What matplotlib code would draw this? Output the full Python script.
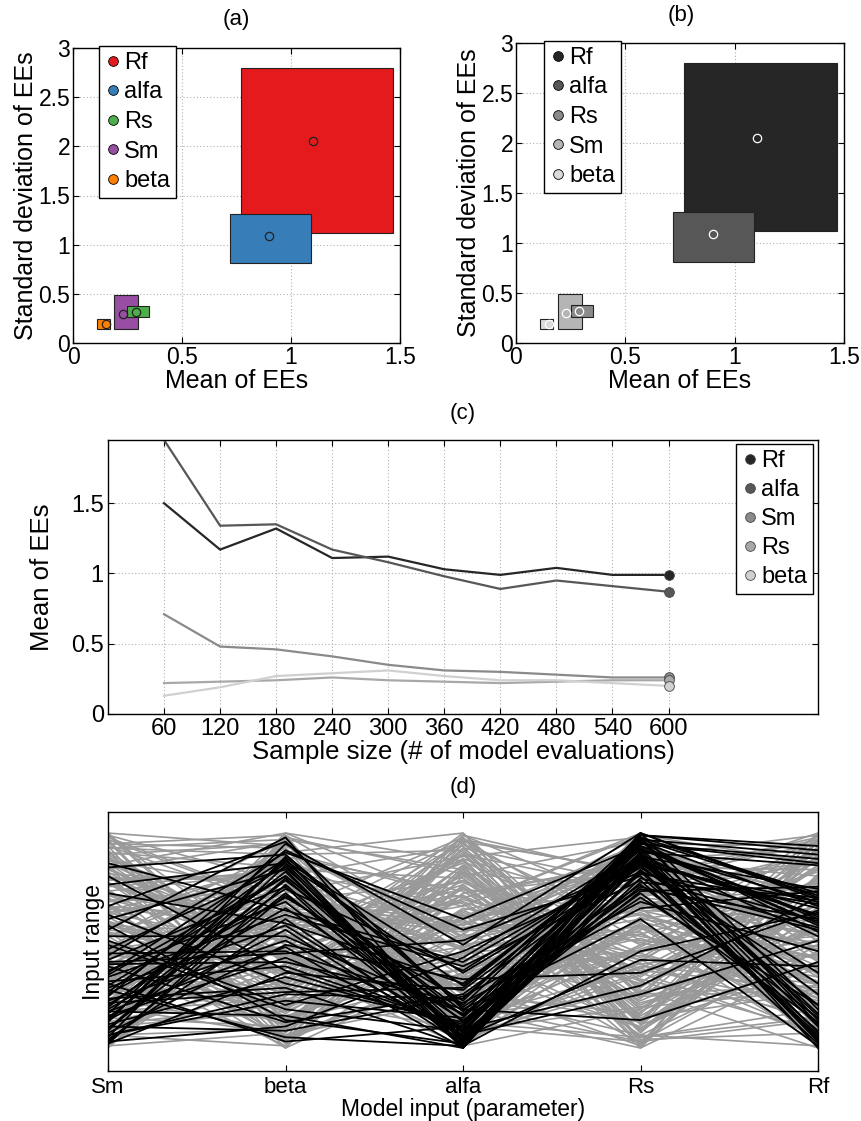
import numpy as np
import matplotlib
matplotlib.use("Agg")
import matplotlib.pyplot as plt
from matplotlib.patches import Rectangle
from matplotlib.lines import Line2D

# ---------------- data ----------------
# (a)/(b): mean / std of elementary effects with bootstrap ranges
params_ab = ["Rf", "alfa", "Rs", "Sm", "beta"]
mu_mid = [1.10, 0.90, 0.29, 0.23, 0.15]
sd_mid = [2.05, 1.09, 0.32, 0.30, 0.19]
mu_lo = [0.77, 0.72, 0.25, 0.19, 0.11]
mu_hi = [1.47, 1.09, 0.35, 0.30, 0.17]
sd_lo = [1.12, 0.81, 0.26, 0.14, 0.14]
sd_hi = [2.80, 1.31, 0.38, 0.49, 0.24]

# (c): mean of EEs versus sample size
sample_size = [60, 120, 180, 240, 300, 360, 420, 480, 540, 600]
params_c = ["Rf", "alfa", "Sm", "Rs", "beta"]
mean_rf = [1.50, 1.17, 1.32, 1.11, 1.12, 1.03, 0.99, 1.04, 0.99, 0.99]
mean_alfa = [1.95, 1.34, 1.35, 1.17, 1.08, 0.98, 0.89, 0.95, 0.91, 0.87]
mean_sm = [0.71, 0.48, 0.46, 0.41, 0.35, 0.31, 0.30, 0.28, 0.26, 0.26]
mean_rs = [0.22, 0.23, 0.24, 0.26, 0.24, 0.23, 0.22, 0.23, 0.24, 0.24]
mean_beta = [0.13, 0.19, 0.27, 0.29, 0.31, 0.27, 0.24, 0.24, 0.22, 0.20]

# (d): parallel coordinates of sampled inputs (percent of range)
params_d = ["Sm", "beta", "alfa", "Rs", "Rf"]
sm_gray = [3, 97, 45, 12, 68, 81, 24, 56, 90, 37, 62, 8, 74, 29, 51, 99, 16, 43, 85, 70,
           5, 33, 58, 92, 21, 77, 47, 10, 64, 88, 39, 2, 53, 95, 27, 71, 14, 60, 83, 36,
           49, 100, 19, 66, 7, 79, 41, 94, 25, 57, 87, 11, 72, 31, 48, 98, 4, 63, 35, 80,
           18, 54, 91, 28, 69, 1, 44, 76, 13, 59, 84, 38, 96, 22, 65, 50, 9, 73, 30, 89,
           42, 6, 78, 55, 17, 93, 34, 67, 0, 82, 26, 61, 46, 99, 15, 75, 40, 86, 20, 52,
           71, 3, 58, 95, 32, 66, 12, 88, 47, 79, 23, 97, 8, 62, 39, 84, 54, 1, 73, 29,
           90, 43, 18, 69, 100, 35, 57, 6, 81, 48, 14, 77, 93, 26, 63, 41, 5, 86, 31, 70,
           52, 99, 10, 45, 83, 22, 67, 38, 94, 2, 59, 16, 76, 50, 27, 91, 36, 64, 9, 85]
beta_gray = [55, 12, 88, 31, 74, 3, 66, 97, 40, 19, 82, 47, 8, 61, 93, 25, 70, 36, 100, 14,
             52, 79, 28, 5, 91, 43, 68, 17, 85, 58, 1, 76, 34, 99, 22, 63, 10, 87, 49, 71,
             27, 94, 6, 59, 38, 80, 15, 65, 96, 42, 73, 20, 53, 89, 4, 67, 32, 78, 11, 60,
             98, 37, 84, 24, 50, 7, 92, 45, 69, 18, 35, 62, 13, 86, 56, 0, 75, 29, 95, 41,
             64, 9, 81, 46, 23, 97, 54, 2, 72, 33, 90, 16, 57, 77, 39, 83, 26, 48, 100, 5,
             44, 70, 21, 93, 60, 11, 79, 34, 87, 51, 8, 66, 99, 30, 74, 42, 3, 58, 82, 19,
             95, 47, 14, 68, 26, 88, 53, 1, 76, 37, 61, 23, 90, 6, 45, 72, 98, 31, 57, 12,
             84, 39, 65, 17, 96, 50, 28, 80, 4, 69, 35, 91, 55, 10, 78, 43, 63, 22, 86, 0]
alfa_gray = [78, 34, 5, 91, 47, 62, 18, 83, 29, 70, 11, 96, 53, 39, 2, 75, 58, 24, 87, 44,
             66, 9, 81, 35, 100, 20, 57, 93, 13, 49, 72, 27, 88, 4, 61, 42, 97, 15, 76, 31,
             85, 52, 23, 68, 1, 94, 37, 59, 8, 80, 46, 99, 16, 73, 33, 55, 90, 6, 64, 26,
             12, 71, 41, 95, 19, 84, 50, 3, 77, 60, 92, 28, 65, 10, 86, 38, 21, 98, 45, 7,
             54, 82, 14, 69, 30, 0, 74, 48, 89, 36, 17, 63, 97, 25, 56, 79, 40, 11, 67, 93,
             3, 46, 85, 22, 71, 58, 8, 90, 33, 62, 99, 15, 51, 78, 38, 27, 95, 4, 66, 43,
             20, 87, 60, 1, 74, 49, 13, 83, 30, 100, 57, 9, 92, 35, 68, 18, 81, 44, 6, 72,
             25, 96, 39, 53, 12, 88, 64, 29, 76, 2, 47, 70, 19, 84, 55, 32, 98, 61, 10, 80]
rs_gray = [21, 66, 93, 8, 54, 37, 79, 1, 45, 88, 60, 14, 30, 97, 72, 5, 41, 84, 18, 63,
           99, 48, 26, 75, 11, 56, 90, 33, 69, 2, 82, 39, 7, 61, 95, 24, 50, 77, 13, 91,
           35, 70, 100, 16, 58, 3, 86, 44, 67, 28, 9, 80, 47, 22, 94, 64, 12, 38, 85, 53,
           74, 0, 57, 31, 89, 19, 68, 96, 42, 6, 27, 92, 52, 78, 15, 43, 99, 4, 60, 35,
           87, 17, 71, 49, 1, 83, 29, 62, 98, 10, 55, 36, 81, 6, 66, 23, 93, 46, 14, 76,
           40, 97, 2, 59, 32, 87, 19, 73, 51, 9, 65, 26, 90, 44, 80, 12, 56, 34, 100, 70,
           3, 48, 77, 18, 62, 95, 37, 8, 84, 25, 91, 58, 13, 69, 41, 0, 75, 53, 29, 86,
           16, 82, 45, 99, 5, 64, 31, 88, 20, 57, 72, 39, 94, 11, 50, 79, 24, 67, 3, 96]
rf_gray = [44, 88, 17, 63, 2, 79, 35, 96, 52, 10, 71, 26, 92, 40, 58, 14, 83, 5, 67, 31,
           19, 99, 48, 74, 37, 8, 62, 85, 23, 94, 55, 12, 80, 29, 66, 100, 43, 1, 77, 50,
           6, 61, 34, 90, 15, 72, 25, 97, 41, 84, 68, 3, 87, 57, 20, 46, 93, 30, 11, 75,
           38, 81, 9, 64, 99, 27, 53, 16, 89, 45, 0, 70, 36, 95, 59, 22, 86, 7, 49, 78,
           13, 56, 91, 33, 76, 4, 65, 42, 18, 97, 82, 28, 60, 1, 47, 88, 24, 73, 39, 54,
           92, 9, 69, 35, 15, 80, 51, 100, 26, 63, 7, 85, 43, 21, 98, 57, 31, 74, 12, 90,
           48, 66, 2, 79, 37, 94, 19, 58, 83, 29, 71, 14, 96, 52, 6, 40, 87, 23, 64, 10,
           99, 33, 77, 45, 18, 61, 8, 92, 55, 30, 86, 50, 4, 68, 42, 97, 27, 75, 13, 59]

sm_black = [84, 76, 72, 62, 55, 50, 46, 44, 41, 38, 35, 33, 31, 29, 27, 25, 24, 22, 21, 19,
            18, 17, 16, 15, 14, 13, 12, 11, 10, 9, 8, 7, 6, 5, 4, 3, 2, 2, 60, 52,
            48, 43, 39, 36, 30, 26, 23, 20, 28, 34, 40, 57, 66, 80, 86, 13, 6, 9, 17, 3]
beta_black = [90, 86, 58, 30, 98, 20, 84, 45, 75, 12, 88, 62, 38, 80, 5, 70, 92, 50, 26, 82,
              65, 15, 87, 42, 78, 55, 95, 33, 8, 72, 85, 48, 22, 89, 60, 10, 76, 35, 83, 52,
              18, 91, 40, 68, 3, 86, 28, 74, 57, 80, 44, 13, 96, 36, 64, 88, 25, 79, 47, 71]
alfa_black = [20, 5, 30, 12, 2, 45, 8, 18, 0, 25, 3, 38, 10, 15, 1, 22, 55, 6, 28, 4,
              13, 0, 35, 9, 17, 2, 48, 11, 24, 7, 1, 32, 14, 19, 3, 42, 5, 27, 0, 16,
              8, 60, 21, 4, 10, 29, 1, 36, 6, 12, 50, 2, 18, 9, 40, 3, 23, 7, 0, 15]
rs_black = [97, 88, 92, 75, 100, 82, 95, 13, 90, 85, 98, 78, 93, 70, 86, 99, 80, 25, 94, 89,
            72, 96, 84, 29, 91, 79, 100, 87, 68, 95, 83, 35, 97, 76, 90, 92, 41, 88, 99, 74,
            86, 94, 65, 98, 81, 93, 45, 89, 77, 96, 85, 91, 60, 100, 87, 82, 97, 73, 94, 90]
rf_black = [90, 62, 10, 55, 70, 5, 88, 40, 15, 68, 72, 2, 58, 20, 65, 94, 8, 50, 60, 74,
            12, 66, 30, 70, 0, 56, 18, 62, 45, 86, 6, 64, 71, 14, 52, 68, 38, 3, 92, 60,
            25, 57, 73, 11, 67, 16, 63, 4, 70, 54, 20, 85, 1, 69, 35, 59, 13, 75, 61, 7]

# ---------------- style ----------------
COLORS_A = ["#E41A1C", "#377EB8", "#4DAF4A", "#984EA3", "#FF7F00"]
GRAYS_B = ["#262626", "#575757", "#8a8a8a", "#b5b5b5", "#dadada"]
GRAYS_C = ["#262626", "#575757", "#8a8a8a", "#a8a8a8", "#d0d0d0"]

plt.rcParams.update({
    "font.family": ["Liberation Sans", "DejaVu Sans"],
    "xtick.direction": "in",
    "ytick.direction": "in",
    "xtick.top": True,
    "ytick.right": True,
    "axes.linewidth": 1.0,
    "xtick.major.size": 4,
    "ytick.major.size": 4,
})

W, H = 861, 1121
fig = plt.figure(figsize=(W / 100, H / 100), dpi=100)

LEG_KW = dict(bbox_transform=fig.transFigure, borderaxespad=0, frameon=True,
              fancybox=False, edgecolor="black", framealpha=1, handletextpad=0.12,
              handlelength=0.7, borderpad=0.25)


def px_axes(left, top, right, bottom):
    return fig.add_axes([left / W, 1 - bottom / H, (right - left) / W, (bottom - top) / H])


def px_text(x, y, s, **kw):
    fig.text(x / W, 1 - y / H, s, ha="center", va="center", **kw)


def grid_dotted(ax):
    ax.grid(True, color="#b0b0b0", linestyle=(0, (1, 2)), linewidth=0.8)
    ax.set_axisbelow(True)


def ee_panel(ax, colors, circ_edge):
    order = np.argsort([-(mu_hi[i] - mu_lo[i]) * (sd_hi[i] - sd_lo[i]) for i in range(len(params_ab))])
    for i in order:
        ax.add_patch(Rectangle((mu_lo[i], sd_lo[i]), mu_hi[i] - mu_lo[i], sd_hi[i] - sd_lo[i],
                               facecolor=colors[i], edgecolor="#222222", linewidth=0.8, zorder=2))
    ax.plot(mu_mid, sd_mid, "o", ms=6, mfc="none", mec=circ_edge, mew=0.9, zorder=3)
    ax.set_xlim(0, 1.5)
    ax.set_ylim(0, 3)
    ax.set_xticks([0, 0.5, 1, 1.5])
    ax.set_xticklabels(["0", "0.5", "1", "1.5"])
    ax.set_yticks([0, 0.5, 1, 1.5, 2, 2.5, 3])
    ax.set_yticklabels(["0", "0.5", "1", "1.5", "2", "2.5", "3"])
    ax.tick_params(labelsize=16.5, pad=2)
    ax.set_xlabel("Mean of EEs", fontsize=18, labelpad=0)
    ax.set_ylabel("Standard deviation of EEs", fontsize=18, labelpad=0)
    grid_dotted(ax)
    handles = [Line2D([], [], ls="none", marker="o", ms=7, mfc=c, mec="black", mew=0.6)
               for c in colors]
    return handles


# (a)
ax_a = px_axes(73, 48, 400, 343)
h = ee_panel(ax_a, COLORS_A, "#222222")
ax_a.legend(h, params_ab, loc="upper left", bbox_to_anchor=(99 / W, 1 - 46 / H),
            fontsize=17, labelspacing=0.32, **LEG_KW)
px_text(236, 20, "(a)", fontsize=16)

# (b)
ax_b = px_axes(516, 43, 844, 343)
h = ee_panel(ax_b, GRAYS_B, "white")
ax_b.legend(h, params_ab, loc="upper left", bbox_to_anchor=(544 / W, 1 - 41 / H),
            fontsize=17, labelspacing=0.32, **LEG_KW)
px_text(681, 16, "(b)", fontsize=16)

# (c)
ax_c = px_axes(108, 440, 818, 714)
series_c = [mean_rf, mean_alfa, mean_sm, mean_rs, mean_beta]
for name, vals, col in zip(params_c, series_c, GRAYS_C):
    ax_c.plot(sample_size, vals, color=col, lw=1.6, zorder=2)
h = []
for name, vals, col in zip(params_c, series_c, GRAYS_C):
    ax_c.plot(sample_size[-1], vals[-1], "o", ms=7, mfc=col, mec="#444444", mew=0.6, zorder=3)
    h.append(Line2D([], [], ls="none", marker="o", ms=7, mfc=col, mec="#444444", mew=0.6))
ax_c.set_xlim(0, 760)
ax_c.set_ylim(0, 1.95)
ax_c.set_xticks(sample_size)
ax_c.set_yticks([0, 0.5, 1, 1.5])
ax_c.set_yticklabels(["0", "0.5", "1", "1.5"])
ax_c.tick_params(labelsize=17, pad=3)
ax_c.set_xlabel("Sample size (# of model evaluations)", fontsize=18.5, labelpad=0)
ax_c.set_ylabel("Mean of EEs", fontsize=18.5, labelpad=12)
grid_dotted(ax_c)
ax_c.legend(h, params_c, loc="upper right", bbox_to_anchor=(813 / W, 1 - 444 / H),
            fontsize=17, labelspacing=0.3, **LEG_KW)
px_text(463, 413, "(c)", fontsize=16)

# (d)
ax_d = px_axes(108, 812, 818, 1071)
xpos = np.arange(len(params_d))
gray = np.array([sm_gray, beta_gray, alfa_gray, rs_gray, rf_gray]) / 100.0
black = np.array([sm_black, beta_black, alfa_black, rs_black, rf_black]) / 100.0
ax_d.plot(xpos, gray, color="#999999", lw=1.2, zorder=1)
ax_d.plot(xpos, black, color="black", lw=1.3, zorder=2)
ax_d.set_xlim(0, len(params_d) - 1)
ax_d.set_ylim(-0.107, 1.098)
ax_d.set_xticks(xpos)
ax_d.set_xticklabels(params_d)
ax_d.set_yticks([])
ax_d.tick_params(axis="x", labelsize=16, pad=4)
ax_d.set_xlabel("Model input (parameter)", fontsize=16.5, labelpad=0)
ax_d.set_ylabel("Input range", fontsize=16.5, labelpad=2)
px_text(463, 788, "(d)", fontsize=16)

fig.savefig("out.png", dpi=100)
